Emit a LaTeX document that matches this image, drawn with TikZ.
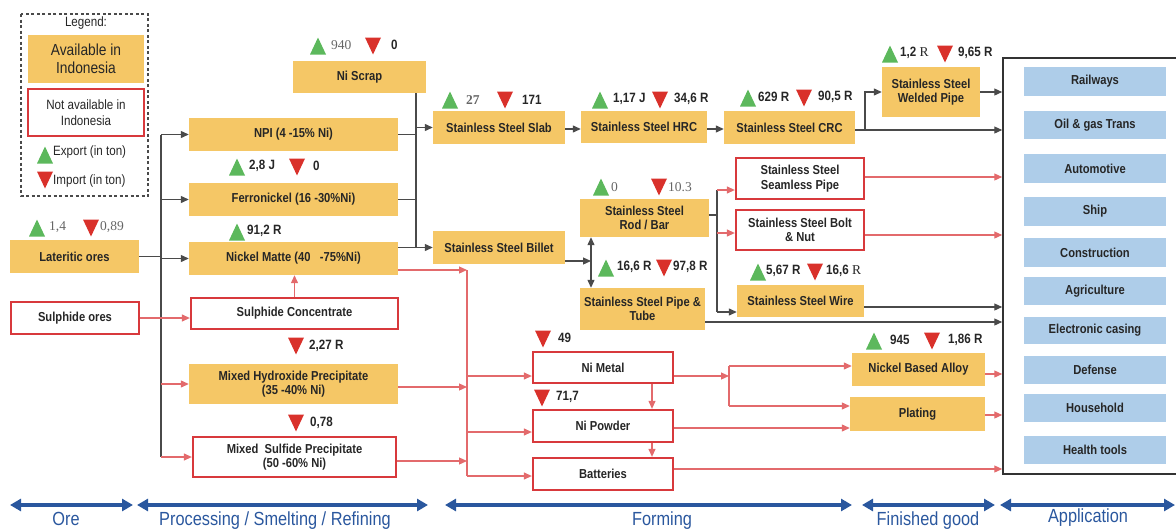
\documentclass[tikz,border=0pt]{standalone}
\usepackage{fontspec}
\setmainfont{Liberation Sans}[FakeStretch=0.86]
\newfontfamily\numserif{Liberation Serif}
\usetikzlibrary{arrows.meta}
\definecolor{yel}{HTML}{F5C766}
\definecolor{redb}{HTML}{D8393C}
\definecolor{redl}{HTML}{E36A6C}
\definecolor{gry}{HTML}{4A4A4A}
\definecolor{appb}{HTML}{AECDE9}
\definecolor{stage}{HTML}{2A579E}
\definecolor{tgreen}{HTML}{5CB85C}
\definecolor{tred}{HTML}{D9312B}
\definecolor{txt}{HTML}{262626}
\definecolor{sgray}{HTML}{666666}
\newcommand\bx[7]{\node[#6,minimum width={#4pt-#2pt},minimum height={#5pt-#3pt}] (#1) at ({(#2+#4)/2},{(#3+#5)/2}) {#7};}
\newcommand\upt[2]{\fill[tgreen] ({#1-8},{#2+8.5}) -- ({#1+8},{#2+8.5}) -- ({#1},{#2-8.5}) -- cycle;}
\newcommand\dnt[2]{\fill[tred] ({#1-8},{#2-8.5}) -- ({#1+8},{#2-8.5}) -- ({#1},{#2+8.5}) -- cycle;}
\begin{document}
\begin{tikzpicture}[x=1pt,y=-1pt,
 avail/.style={fill=yel,inner sep=1pt,align=center,text=txt,font=\fontsize{13}{14.5}\selectfont\bfseries},
 notav/.style={fill=white,draw=redb,line width=2.3pt,inner sep=1pt,align=center,text=txt,font=\fontsize{13}{14.5}\selectfont\bfseries},
 appit/.style={fill=appb,inner sep=1pt,text=txt,font=\fontsize{13}{14}\selectfont\bfseries},
 vlab/.style={anchor=west,inner sep=0pt,text=txt,font=\fontsize{13.5}{14}\selectfont\bfseries},
 sv/.style={anchor=west,inner sep=0pt,text=sgray,font=\numserif\fontsize{13.5}{14}\selectfont},
 lgt/.style={anchor=west,inner sep=0pt,text=txt,font=\fontsize{13.5}{15}\selectfont},
 bl/.style={draw=gry,line width=1.2pt},
 bla/.style={bl,-{Triangle[length=8pt,width=7pt]}},
 rl/.style={draw=redl,line width=1.2pt},
 rla/.style={rl,-{Triangle[length=8pt,width=7pt]}},
 stg/.style={draw=stage,line width=3.5pt,{Triangle[length=11pt,width=12pt]}-{Triangle[length=11pt,width=12pt]}},
 stl/.style={text=stage,inner sep=0pt,anchor=base,font=\fontsize{19}{21}\selectfont},
]
\useasboundingbox (0,0) rectangle (1176,530);
\clip (0,0) rectangle (1176,530);
% ---------------- legend
\draw[gry,line width=1.3pt,dash pattern=on 3pt off 2.5pt] (21,14) rectangle (148,196);
\node[inner sep=0pt,text=txt,font=\fontsize{13.5}{14}\selectfont] (lgT) at (86,23) {Legend:};
\bx{lgA}{28}{35}{144}{83}{avail,font=\fontsize{16}{18}\selectfont}{Available in\\Indonesia}
\bx{lgN}{28}{89}{144}{136}{notav,font=\fontsize{13.5}{15.5}\selectfont}{Not available in\\Indonesia}
\upt{45}{155}
\node[lgt] (lgE) at (53,152) {Export (in ton)};
\dnt{45}{180}
\node[lgt] (lgI) at (53,181) {Import (in ton)};
% ---------------- processing boxes
\bx{ni}{293}{61}{426}{93}{avail}{Ni Scrap}
\bx{npi}{189}{118}{398}{151}{avail}{NPI (4 -15\% Ni)}
\bx{fe}{189}{183}{398}{216}{avail}{Ferronickel (16 -30\%Ni)}
\bx{nm}{189}{242}{398}{275}{avail}{Nickel Matte (40\ \ \ -75\%Ni)}
\bx{lat}{10}{240}{139}{273}{avail}{Lateritic ores}
\bx{sul}{11}{302}{139}{334}{notav}{Sulphide ores}
\bx{sc}{191}{298}{398}{329}{notav}{Sulphide Concentrate}
\bx{mhp}{189}{364}{398}{404}{avail}{Mixed Hydroxide Precipitate\\(35 -40\% Ni)}
\bx{msp}{193}{437}{396}{477}{notav}{Mixed\ \ Sulfide Precipitate\\(50 -60\% Ni)}
% ---------------- forming boxes
\bx{slab}{433}{111}{565}{144}{avail}{Stainless Steel Slab}
\bx{bil}{433}{231}{565}{264}{avail}{Stainless Steel Billet}
\bx{hrc}{581}{111}{707}{143}{avail}{Stainless Steel HRC}
\bx{crc}{724}{111}{855}{144}{avail}{Stainless Steel CRC}
\bx{rod}{580}{199}{709}{237}{avail}{Stainless Steel\\Rod / Bar}
\bx{pipe}{580}{288}{705}{330}{avail}{Stainless Steel Pipe \&\\Tube}
\bx{seam}{736}{158}{864}{199}{notav}{Stainless Steel\\Seamless Pipe}
\bx{bolt}{736}{210}{864}{250}{notav}{Stainless Steel Bolt\\\& Nut}
\bx{wire}{737}{285}{864}{317}{avail}{Stainless Steel Wire}
\bx{nim}{533}{352}{673}{383}{notav}{Ni Metal}
\bx{nip}{533}{410}{673}{442}{notav}{Ni Powder}
\bx{bat}{533}{458}{673}{490}{notav}{Batteries}
% ---------------- finished goods
\bx{weld}{882}{67}{980}{117}{avail}{Stainless Steel\\Welded Pipe}
\bx{nba}{852}{353}{985}{386}{avail}{Nickel Based Alloy}
\bx{plat}{850}{397}{985}{431}{avail}{Plating}
% ---------------- application
\bx{app}{1003}{58}{1184}{474}{draw=black!80,line width=1.5pt}{}
\bx{a1}{1024}{67}{1166}{96}{appit}{Railways}
\bx{a2}{1024}{111}{1166}{139}{appit}{Oil \& gas Trans}
\bx{a3}{1024}{154}{1166}{183}{appit}{Automotive}
\bx{a4}{1024}{197}{1166}{226}{appit}{Ship}
\bx{a5}{1024}{238}{1166}{267}{appit}{Construction}
\bx{a6}{1024}{277}{1166}{305}{appit}{Agriculture}
\bx{a7}{1024}{317}{1166}{344}{appit}{Electronic casing}
\bx{a8}{1024}{356}{1166}{384}{appit}{Defense}
\bx{a9}{1024}{394}{1166}{422}{appit}{Household}
\bx{a10}{1024}{436}{1166}{464}{appit}{Health tools}
% ---------------- export / import values
\upt{318}{46} \node[sv] (v1) at (331,45) {940}; \dnt{373}{46} \node[vlab] (v2) at (391,45) {0};
\upt{237}{167} \node[vlab] (v3) at (249,166) {2,8 J}; \dnt{297}{167} \node[vlab] (v4) at (313,166) {0};
\upt{237}{232} \node[vlab] (v5) at (247,231) {91,2 R};
\upt{37}{228} \node[sv] (v6) at (49,227) {1,4}; \dnt{91}{228} \node[sv] (v7) at (100,227) {0,89};
\dnt{296}{346} \node[vlab] (v8) at (309,346) {2,27 R};
\dnt{296}{423} \node[vlab] (v9) at (310,423) {0,78};
\upt{450}{100} \node[sv,font=\numserif\bfseries\fontsize{13.5}{14}\selectfont] (v10) at (466,100) {27}; \dnt{505}{100} \node[vlab] (v11) at (522,100) {171};
\upt{600}{100} \node[vlab] (v12) at (613,99) {1,17 J}; \dnt{660}{100} \node[vlab] (v13) at (674,99) {34,6 R};
\upt{748}{98} \node[vlab] (v14) at (758,97) {629 R}; \dnt{804}{98} \node[vlab] (v15) at (818,97) {90,5 R};
\upt{890}{54} \node[vlab] (v16) at (900,53) {1,2 {\numserif\mdseries R}}; \dnt{945}{54} \node[vlab] (v17) at (958,53) {9,65 R};
\upt{601}{187} \node[sv] (v18) at (611,187) {0}; \dnt{659}{187} \node[sv] (v19) at (668,187) {10.3};
\upt{606}{268} \node[vlab] (v20) at (617,267) {16,6 R}; \dnt{664}{268} \node[vlab] (v21) at (673,267) {97,8 R};
\upt{758}{272} \node[vlab] (v22) at (766,271) {5,67 R}; \dnt{815}{272} \node[vlab] (v23) at (826,271) {16,6 {\numserif\mdseries R}};
\dnt{543}{339} \node[vlab] (v24) at (558,338) {49};
\dnt{542}{398} \node[vlab] (v25) at (556,397) {71,7};
\upt{874}{341} \node[vlab] (v26) at (890,340) {945}; \dnt{932}{341} \node[vlab] (v27) at (948,340) {1,86 R};
% ---------------- connectors: ore -> processing
\coordinate (vL) at (161,0);
\draw[bl] (lat.east) -- (lat.east -| vL);
\draw[bl] (vL |- npi.west) -- (vL |- msp.west);
\draw[bla] (vL |- npi.west) -- (npi.west);
\draw[bla] (vL |- fe.west) -- (fe.west);
\draw[bla] (vL |- nm.west) -- (nm.west);
\draw[rla] (vL |- mhp.west) -- (mhp.west);
\draw[rla] (vL |- msp.west) -- (msp.west);
\draw[rla] (sul.east) -- (sul.east -| sc.west);
\draw[rla] (sc.north) -- (sc.north |- nm.south);
% processing -> forming (stainless)
\coordinate (vR) at (416,0);
\draw[bl] (vR |- ni.south) -- (vR |- bil.west);
\draw[bl] (npi.east) -- (npi.east -| vR);
\draw[bl] (fe.east) -- (fe.east -| vR);
\draw[bl] (nm.east |- bil.west) -- (vR |- bil.west);
\draw[bla] (vR |- slab.west) -- (slab.west);
\draw[bla] (vR |- bil.west) -- (bil.west);
% processing -> forming (nickel)
\coordinate (vM) at (467,270);
\coordinate (vMb) at (467,476);
\draw[rl] (vM) -- (vMb);
\draw[rla] (nm.east |- vM) -- (vM);
\draw[rla] (mhp.east |- 0,387) -- (vM |- 0,387);
\draw[rla] (msp.east |- 0,461) -- (vM |- 0,461);
\draw[rla] (vM |- 0,376) -- (nim.west |- 0,376);
\draw[rla] (vM |- 0,432) -- (nip.west |- 0,432);
\draw[rla] (vMb) -- (bat.west |- vMb);
\coordinate (xD) at (652,0);
\draw[rla] (xD |- nim.south) -- (xD |- nip.north);
\draw[rla] (xD |- nip.south) -- (xD |- bat.north);
% nickel -> finished / application
\coordinate (vN) at (729,0);
\draw[rla] (nim.east |- 0,376) -- (vN |- 0,376);
\draw[rl] (vN |- 0,366) -- (vN |- 0,406);
\draw[rla] (vN |- 0,366) -- (nba.west |- 0,366);
\draw[rla] (vN |- 0,406) -- (plat.west |- 0,406);
\draw[rla] (nip.east |- 0,428) -- (plat.west |- 0,428);
\draw[rla] (bat.east |- 0,469) -- (app.west |- 0,469);
\draw[rla] (nba.east |- 0,374) -- (app.west |- 0,374);
\draw[rla] (plat.east |- 0,415) -- (app.west |- 0,415);
% stainless forming
\draw[bla] (slab.east |- 0,129) -- (hrc.west |- 0,129);
\draw[bla] (hrc.east |- 0,129) -- (crc.west |- 0,129);
\coordinate (vW) at (865,0);
\draw[bla] (crc.east |- 0,130) -- (app.west |- 0,130);
\draw[bla] (vW |- 0,130) -- (vW |- weld.west) -- (weld.west);
\draw[bla] (weld.east) -- (app.west |- weld.east);
\coordinate (vB) at (591,0);
\draw[bla] (bil.east |- 0,261) -- (vB |- 0,261);
\draw[bl,{Triangle[length=8pt,width=7pt]}-{Triangle[length=8pt,width=7pt]}] (vB |- rod.south) -- (vB |- pipe.north);
\coordinate (vS) at (717,0);
\draw[bl] (rod.east |- 0,215) -- (vS |- 0,215);
\draw[bl] (vS |- 0,190) -- (vS |- 0,312);
\draw[rla] (vS |- 0,190) -- (seam.west |- 0,190);
\draw[rla] (vS |- 0,233) -- (bolt.west |- 0,233);
\draw[bla] (vS |- 0,312) -- (wire.west |- 0,312);
\draw[rla] (seam.east |- 0,177) -- (app.west |- 0,177);
\draw[rla] (bolt.east |- 0,235) -- (app.west |- 0,235);
\draw[bla] (wire.east |- 0,307) -- (app.west |- 0,307);
\draw[bla] (pipe.east |- 0,322) -- (app.west |- 0,322);
% ---------------- stages
\coordinate (s0a) at (10,505); \coordinate (s0b) at (133,505);
\coordinate (s1a) at (137,505); \coordinate (s1b) at (428,505);
\coordinate (s2a) at (445,505); \coordinate (s2b) at (852,505);
\coordinate (s3a) at (862,505); \coordinate (s3b) at (995,505);
\coordinate (s4a) at (1000,505); \coordinate (s4b) at (1175,505);
\draw[stg] (s0a) -- (s0b);
\draw[stg] (s1a) -- (s1b);
\draw[stg] (s2a) -- (s2b);
\draw[stg] (s3a) -- (s3b);
\draw[stg] (s4a) -- (s4b);
\node[stl] (st0) at (66,525.5) {Ore};
\node[stl] (st1) at (275,525.5) {Processing / Smelting / Refining};
\node[stl] (st2) at (662,525) {Forming};
\node[stl] (st3) at (928,525) {Finished good};
\node[stl] (st4) at (1088,522) {Application};
\end{tikzpicture}
\end{document}
